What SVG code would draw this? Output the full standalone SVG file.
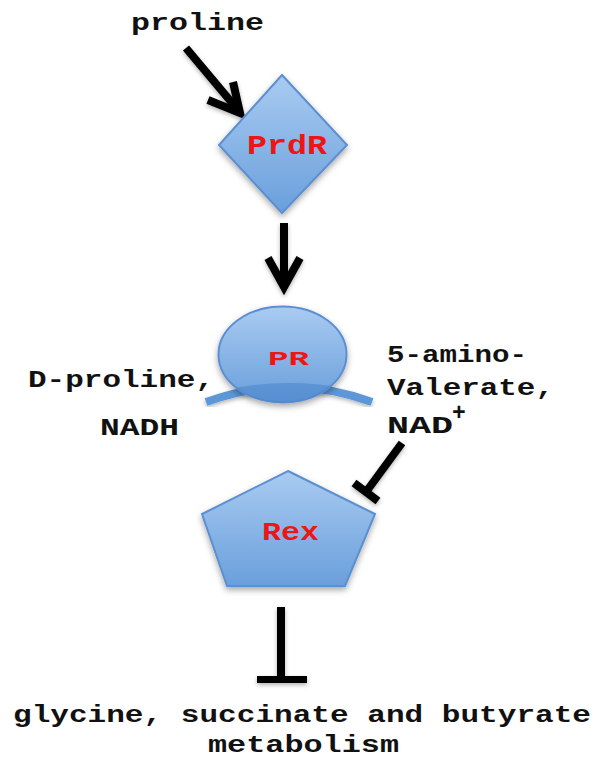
<svg xmlns="http://www.w3.org/2000/svg" width="594" height="764" viewBox="0 0 594 764">
<defs>
<linearGradient id="blue" x1="0" y1="0" x2="0" y2="1">
<stop offset="0" stop-color="#a9cbf1"/>
<stop offset="1" stop-color="#6a9fdc"/>
</linearGradient>
<filter id="sh" x="-20%" y="-20%" width="140%" height="150%">
<feDropShadow dx="0" dy="3" stdDeviation="3" flood-color="#000" flood-opacity="0.35"/>
</filter>
<filter id="lsh" x="-30%" y="-30%" width="160%" height="160%">
<feDropShadow dx="0" dy="2" stdDeviation="2" flood-color="#000" flood-opacity="0.3"/>
</filter>
<clipPath id="ellClip"><ellipse cx="282.5" cy="354.5" rx="64" ry="48"/></clipPath>
</defs>
<style>
.shape{fill:url(#blue);stroke:#5b8fd0;stroke-width:2;filter:url(#sh)}
.lbl{font-family:"Liberation Mono","Courier New",monospace;font-weight:bold;font-size:23px;fill:#111}
.red{font-family:"Liberation Mono","Courier New",monospace;font-weight:bold;fill:#ee1515}
.ln{stroke:#000;stroke-width:8;fill:none;filter:url(#lsh)}
</style>
<rect width="594" height="764" fill="#fff"/>

<g id="connectors">
<g id="proline-to-PrdR" class="ln">
<line x1="186" y1="48" x2="238" y2="110"/>
<polyline points="208,100 240,113 233,82" stroke-linejoin="miter"/>
</g>
<g id="PrdR-to-PR" class="ln">
<line x1="284" y1="223" x2="284" y2="284"/>
<polyline points="268,258 284,287 300,258" stroke-linejoin="miter"/>
</g>
<g id="NAD-inhibits-Rex" class="ln">
<line x1="402" y1="443" x2="366" y2="492"/>
<line x1="354" y1="483" x2="378" y2="501"/>
</g>
<g id="Rex-inhibits-metabolism" class="ln">
<line x1="281" y1="607" x2="281" y2="679"/>
<line x1="257" y1="679.5" x2="307" y2="679.5" stroke-width="7"/>
</g>
</g>

<g id="proline"><text class="lbl" x="131" y="30" textLength="133" lengthAdjust="spacingAndGlyphs">proline</text></g>

<g id="PrdR">
<polygon class="shape" points="282,75 347,145 282,213 219,145"/>
<text class="red" font-size="27" x="247" y="154" textLength="80" lengthAdjust="spacingAndGlyphs">PrdR</text>
</g>

<g id="PR">
<path d="M206,402 Q289,372 372,402" stroke="#5d97d8" stroke-width="8" fill="none" filter="url(#lsh)"/>
<ellipse class="shape" cx="282.5" cy="354.5" rx="64" ry="48"/>
<path clip-path="url(#ellClip)" d="M200,396 Q289,370 378,396 L378,410 L200,410 Z" fill="#3f7cc6" fill-opacity="0.45"/>
<text class="red" font-size="21" x="268" y="365" textLength="41" lengthAdjust="spacingAndGlyphs">PR</text>
</g>

<g id="substrates">
<text class="lbl" x="28" y="387" textLength="186" lengthAdjust="spacingAndGlyphs">D-proline,</text>
<text class="lbl" x="100" y="435" textLength="79" lengthAdjust="spacingAndGlyphs">NADH</text>
</g>

<g id="products">
<text class="lbl" x="387" y="362" textLength="140" lengthAdjust="spacingAndGlyphs">5-amino-</text>
<text class="lbl" x="387" y="395" textLength="167" lengthAdjust="spacingAndGlyphs">Valerate,</text>
<text class="lbl" x="387" y="433" textLength="66" lengthAdjust="spacingAndGlyphs">NAD</text>
<text class="lbl" x="452" y="420" font-size="13">+</text>
</g>

<g id="Rex">
<polygon class="shape" points="288,471 375,514 345,586 227,586 202,514"/>
<text class="red" font-size="25" x="262" y="540" textLength="57" lengthAdjust="spacingAndGlyphs">Rex</text>
</g>

<g id="metabolism">
<text class="lbl" x="13" y="722" textLength="578" lengthAdjust="spacingAndGlyphs">glycine, succinate and butyrate</text>
<text class="lbl" x="208" y="752" textLength="191" lengthAdjust="spacingAndGlyphs">metabolism</text>
</g>
</svg>
